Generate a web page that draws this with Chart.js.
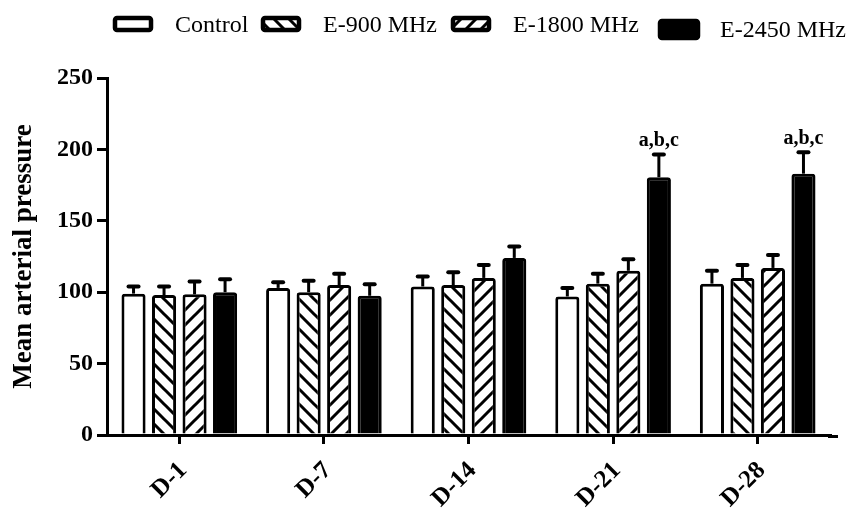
<!DOCTYPE html>
<html>
<head>
<meta charset="utf-8">
<script src="https://cdn.jsdelivr.net/npm/chart.js@4.4.1/dist/chart.umd.min.js"></script>
<style>
  html, body { margin: 0; padding: 0; background: #fff; }
  canvas { display: block; }
</style>
</head>
<body>
<canvas id="mapChart" width="858" height="511"></canvas>
<script>
// Data
const days = ["D-1", "D-7", "D-14", "D-21", "D-28"];
const groups = ["Control", "E-900 MHz", "E-1800 MHz", "E-2450 MHz"];
const control = [99, 103, 104, 97, 106];
const e900 = [98, 100, 105, 106, 110];
const e1800 = [98.5, 105, 110, 115, 117];
const e2450 = [100, 97.5, 124, 180.5, 183];
const controlErr = [5, 4, 7, 6, 9];
const e900Err = [6, 8, 9, 7, 9];
const e1800Err = [9, 8, 9, 8, 9];
const e2450Err = [9, 8, 8, 16, 15];
const e2450Marks = ["", "", "", "a,b,c", "a,b,c"];
const yTicks = [0, 50, 100, 150, 200, 250];

const serif = "'Liberation Serif', 'Times New Roman', serif";
const ctx = document.getElementById("mapChart").getContext("2d");

// Diagonal hatch fill
function hatch(dir) {
  const s = 15;
  const c = document.createElement("canvas");
  c.width = s;
  c.height = s;
  const g = c.getContext("2d");
  g.fillStyle = "#fff";
  g.fillRect(0, 0, s, s);
  g.strokeStyle = "#000";
  g.lineWidth = 3;
  g.beginPath();
  if (dir === "down") {
    g.moveTo(-2, -2); g.lineTo(s + 2, s + 2);
    g.moveTo(-2, s - 2); g.lineTo(2, s + 2);
    g.moveTo(s - 2, -2); g.lineTo(s + 2, 2);
  } else {
    g.moveTo(-2, s + 2); g.lineTo(s + 2, -2);
    g.moveTo(-2, 2); g.lineTo(2, -2);
    g.moveTo(s - 2, s + 2); g.lineTo(s + 2, s - 2);
  }
  g.stroke();
  return ctx.createPattern(c, "repeat");
}

// Error bars (upper only) and significance letters
const errorBars = {
  id: "errorBars",
  afterDatasetsDraw(chart) {
    const c = chart.ctx;
    const y = chart.scales.y;
    chart.data.datasets.forEach((ds, i) => {
      const meta = chart.getDatasetMeta(i);
      meta.data.forEach((bar, j) => {
        const top = y.getPixelForValue(ds.data[j]);
        const cap = y.getPixelForValue(ds.data[j] + ds.errors[j]);
        c.save();
        c.strokeStyle = "#000";
        c.lineWidth = 3;
        c.beginPath();
        c.moveTo(bar.x, top);
        c.lineTo(bar.x, cap);
        c.stroke();
        c.lineWidth = 4;
        c.lineCap = "round";
        c.beginPath();
        c.moveTo(bar.x - 5, cap);
        c.lineTo(bar.x + 5, cap);
        c.stroke();
        if (ds.marks && ds.marks[j]) {
          c.fillStyle = "#000";
          c.font = "bold 20px " + serif;
          c.textAlign = "center";
          c.textBaseline = "alphabetic";
          c.fillText(ds.marks[j], bar.x, cap - 8);
        }
        c.restore();
      });
    });
  }
};

// Legend drawn by hand, GraphPad style
const legendX = [113, 261, 451, 658];
const figLegend = {
  id: "figLegend",
  afterDraw(chart) {
    const c = chart.ctx;
    const area = chart.chartArea;
    c.save();
    // x axis runs a little past the last group
    c.strokeStyle = "#000";
    c.lineWidth = 3;
    c.beginPath();
    c.moveTo(area.right - 2, area.bottom + 1.5);
    c.lineTo(area.right + 8, area.bottom + 1.5);
    c.stroke();

    chart.data.datasets.forEach((ds, i) => {
      const x = legendX[i];
      const last = i === legendX.length - 1;
      const by = last ? 19 : 16;
      const bh = last ? 21 : 16;
      const bw = last ? 42 : 40;
      c.beginPath();
      c.roundRect(x + 2, by + 2, bw - 4, bh - 4, 2);
      c.fillStyle = ds.backgroundColor;
      c.fill();
      c.lineWidth = 4.5;
      c.strokeStyle = "#000";
      c.stroke();
      c.fillStyle = "#000";
      c.font = "24px " + serif;
      c.textAlign = "left";
      c.textBaseline = "alphabetic";
      c.fillText(ds.label, x + 62, last ? 37 : 32);
    });
    c.restore();
  }
};

new Chart(ctx, {
  type: "bar",
  data: {
    labels: days,
    datasets: [
      { label: groups[0], data: control, errors: controlErr, backgroundColor: "#fff" },
      { label: groups[1], data: e900, errors: e900Err, backgroundColor: hatch("down") },
      { label: groups[2], data: e1800, errors: e1800Err, backgroundColor: hatch("up") },
      { label: groups[3], data: e2450, errors: e2450Err, marks: e2450Marks, backgroundColor: "#000" }
    ]
  },
  options: {
    responsive: false,
    animation: false,
    layout: { padding: { top: 78, right: 28, left: 0, bottom: 0 } },
    datasets: {
      bar: {
        borderColor: "#000",
        borderWidth: 3,
        borderRadius: 3,
        categoryPercentage: 0.844,
        barPercentage: 0.79
      }
    },
    plugins: {
      legend: { display: false },
      tooltip: { enabled: false }
    },
    scales: {
      x: {
        grid: { display: true, offset: false, drawOnChartArea: false, color: "#000", lineWidth: 3, tickLength: 9 },
        border: { display: true, color: "#000", width: 3 },
        ticks: {
          color: "#000",
          font: { family: serif, size: 25, weight: "bold" },
          maxRotation: 45,
          minRotation: 45,
          autoSkip: false,
          padding: 12,
          labelOffset: 4
        },
        afterFit: s => { s.height = 76; }
      },
      y: {
        min: 0,
        max: 250,
        afterBuildTicks: s => { s.ticks = yTicks.map(v => ({ value: v })); },
        grid: { display: true, drawOnChartArea: false, color: "#000", lineWidth: 3, tickLength: 10 },
        border: { display: true, color: "#000", width: 3 },
        ticks: {
          color: "#000",
          font: { family: serif, size: 24, weight: "bold" },
          padding: 4
        },
        title: {
          display: true,
          text: "Mean arterial pressure",
          color: "#000",
          font: { family: serif, size: 27, weight: "bold" },
          padding: { top: 8, bottom: 0 }
        },
        afterFit: s => { s.width = 107; }
      }
    }
  },
  plugins: [errorBars, figLegend]
});
</script>
</body>
</html>
